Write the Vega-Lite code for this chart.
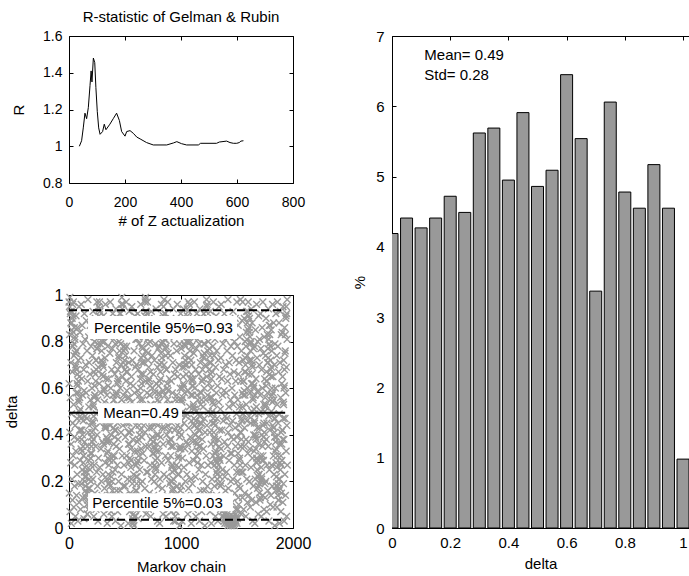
{
"$schema":"https://vega.github.io/schema/vega-lite/v6.json",
"background":"white",
"padding":{"left":4,"top":10,"right":0,"bottom":0},
"config":{
 "font":"Liberation Sans",
 "view":{"stroke":null},
 "axis":{"domainColor":"black","domainWidth":1,"tickColor":"black","tickWidth":1,"tickSize":-4,"labelColor":"black","titleColor":"black","grid":false,"titleFontWeight":"normal","labelFont":"Liberation Sans","titleFont":"Liberation Sans","labelFlush":false,"labelOverlap":false,"labelBound":false},
 "title":{"fontWeight":"normal","color":"black","font":"Liberation Sans"}
},
"datasets":{
 "rstat":[{"n":37,"R":1.0},{"n":45,"R":1.03},{"n":51,"R":1.1},{"n":57,"R":1.18},{"n":63,"R":1.15},{"n":69,"R":1.21},{"n":75,"R":1.33},{"n":79,"R":1.41},{"n":82,"R":1.35},{"n":87,"R":1.48},{"n":92,"R":1.455},{"n":96,"R":1.32},{"n":101,"R":1.19},{"n":106,"R":1.1},{"n":111,"R":1.065},{"n":120,"R":1.08},{"n":126,"R":1.12},{"n":132,"R":1.09},{"n":146,"R":1.12},{"n":158,"R":1.15},{"n":170,"R":1.18},{"n":180,"R":1.14},{"n":188,"R":1.08},{"n":200,"R":1.055},{"n":206,"R":1.08},{"n":218,"R":1.085},{"n":230,"R":1.07},{"n":242,"R":1.05},{"n":254,"R":1.04},{"n":277,"R":1.02},{"n":301,"R":1.007},{"n":349,"R":1.007},{"n":373,"R":1.018},{"n":385,"R":1.025},{"n":402,"R":1.014},{"n":420,"R":1.007},{"n":462,"R":1.007},{"n":470,"R":1.016},{"n":527,"R":1.016},{"n":537,"R":1.023},{"n":563,"R":1.028},{"n":575,"R":1.02},{"n":587,"R":1.016},{"n":599,"R":1.016},{"n":608,"R":1.02},{"n":614,"R":1.028},{"n":623,"R":1.03}],
 "chain":[
{"i":0,"d":0.97},{"i":4,"d":0.95},{"i":8,"d":0.99},{"i":12,"d":0.92},{"i":16,"d":0.88},{"i":20,"d":0.93},{"i":24,"d":0.85},{"i":28,"d":0.9},{"i":32,"d":0.96},{"i":36,"d":0.91},{"i":40,"d":0.84},{"i":44,"d":0.79},{"i":48,"d":0.86},{"i":52,"d":0.82},{"i":56,"d":0.75},{"i":60,"d":0.7},{"i":64,"d":0.76},{"i":68,"d":0.68},{"i":72,"d":0.62},{"i":76,"d":0.66},
{"i":80,"d":0.58},{"i":84,"d":0.63},{"i":88,"d":0.55},{"i":92,"d":0.5},{"i":96,"d":0.56},{"i":100,"d":0.48},{"i":104,"d":0.42},{"i":108,"d":0.47},{"i":112,"d":0.38},{"i":116,"d":0.33},{"i":120,"d":0.4},{"i":124,"d":0.35},{"i":128,"d":0.28},{"i":132,"d":0.31},{"i":136,"d":0.24},{"i":140,"d":0.2},{"i":144,"d":0.26},{"i":148,"d":0.18},{"i":152,"d":0.22},{"i":156,"d":0.15},
{"i":160,"d":0.1},{"i":164,"d":0.06},{"i":168,"d":0.12},{"i":172,"d":0.08},{"i":176,"d":0.15},{"i":180,"d":0.21},{"i":184,"d":0.17},{"i":188,"d":0.25},{"i":192,"d":0.3},{"i":196,"d":0.27},{"i":200,"d":0.35},{"i":204,"d":0.41},{"i":208,"d":0.37},{"i":212,"d":0.45},{"i":216,"d":0.52},{"i":220,"d":0.48},{"i":224,"d":0.56},{"i":228,"d":0.61},{"i":232,"d":0.57},{"i":236,"d":0.66},
{"i":240,"d":0.72},{"i":244,"d":0.68},{"i":248,"d":0.77},{"i":252,"d":0.83},{"i":256,"d":0.79},{"i":260,"d":0.88},{"i":264,"d":0.95},{"i":268,"d":0.91},{"i":272,"d":0.97},{"i":276,"d":0.93},{"i":280,"d":0.86},{"i":284,"d":0.9},{"i":288,"d":0.82},{"i":292,"d":0.76},{"i":296,"d":0.8},{"i":300,"d":0.71},{"i":304,"d":0.65},{"i":308,"d":0.69},{"i":312,"d":0.6},{"i":316,"d":0.54},
{"i":320,"d":0.49},{"i":324,"d":0.44},{"i":328,"d":0.5},{"i":332,"d":0.43},{"i":336,"d":0.37},{"i":340,"d":0.32},{"i":344,"d":0.38},{"i":348,"d":0.3},{"i":352,"d":0.23},{"i":356,"d":0.27},{"i":360,"d":0.19},{"i":364,"d":0.14},{"i":368,"d":0.18},{"i":372,"d":0.11},{"i":376,"d":0.07},{"i":380,"d":0.13},{"i":384,"d":0.2},{"i":388,"d":0.16},{"i":392,"d":0.24},{"i":396,"d":0.29},
{"i":400,"d":0.36},{"i":404,"d":0.31},{"i":408,"d":0.39},{"i":412,"d":0.46},{"i":416,"d":0.42},{"i":420,"d":0.51},{"i":424,"d":0.57},{"i":428,"d":0.53},{"i":432,"d":0.62},{"i":436,"d":0.68},{"i":440,"d":0.64},{"i":444,"d":0.73},{"i":448,"d":0.8},{"i":452,"d":0.76},{"i":456,"d":0.85},{"i":460,"d":0.92},{"i":464,"d":0.88},{"i":468,"d":0.96},{"i":472,"d":0.99},{"i":476,"d":0.94},
{"i":480,"d":0.89},{"i":484,"d":0.83},{"i":488,"d":0.87},{"i":492,"d":0.78},{"i":496,"d":0.72},{"i":500,"d":0.77},{"i":504,"d":0.7},{"i":508,"d":0.63},{"i":512,"d":0.67},{"i":516,"d":0.59},{"i":520,"d":0.52},{"i":524,"d":0.56},{"i":528,"d":0.47},{"i":532,"d":0.41},{"i":536,"d":0.45},{"i":540,"d":0.36},{"i":544,"d":0.3},{"i":548,"d":0.34},{"i":552,"d":0.26},{"i":556,"d":0.21},
{"i":560,"d":0.14},{"i":564,"d":0.09},{"i":568,"d":0.04},{"i":572,"d":0.02},{"i":576,"d":0.06},{"i":580,"d":0.01},{"i":584,"d":0.05},{"i":588,"d":0.11},{"i":592,"d":0.08},{"i":596,"d":0.16},{"i":600,"d":0.22},{"i":604,"d":0.19},{"i":608,"d":0.28},{"i":612,"d":0.33},{"i":616,"d":0.29},{"i":620,"d":0.38},{"i":624,"d":0.44},{"i":628,"d":0.4},{"i":632,"d":0.48},{"i":636,"d":0.55},
{"i":640,"d":0.6},{"i":644,"d":0.66},{"i":648,"d":0.62},{"i":652,"d":0.71},{"i":656,"d":0.77},{"i":660,"d":0.74},{"i":664,"d":0.82},{"i":668,"d":0.87},{"i":672,"d":0.84},{"i":676,"d":0.91},{"i":680,"d":0.97},{"i":684,"d":0.99},{"i":688,"d":0.93},{"i":692,"d":0.88},{"i":696,"d":0.92},{"i":700,"d":0.81},{"i":704,"d":0.75},{"i":708,"d":0.79},{"i":712,"d":0.69},{"i":716,"d":0.64},
{"i":720,"d":0.57},{"i":724,"d":0.61},{"i":728,"d":0.53},{"i":732,"d":0.47},{"i":736,"d":0.5},{"i":740,"d":0.43},{"i":744,"d":0.39},{"i":748,"d":0.45},{"i":752,"d":0.37},{"i":756,"d":0.32},{"i":760,"d":0.35},{"i":764,"d":0.27},{"i":768,"d":0.23},{"i":772,"d":0.29},{"i":776,"d":0.25},{"i":780,"d":0.33},{"i":784,"d":0.4},{"i":788,"d":0.36},{"i":792,"d":0.44},{"i":796,"d":0.51},
{"i":800,"d":0.58},{"i":804,"d":0.54},{"i":808,"d":0.63},{"i":812,"d":0.7},{"i":816,"d":0.67},{"i":820,"d":0.75},{"i":824,"d":0.71},{"i":828,"d":0.79},{"i":832,"d":0.86},{"i":836,"d":0.83},{"i":840,"d":0.9},{"i":844,"d":0.95},{"i":848,"d":0.98},{"i":852,"d":0.92},{"i":856,"d":0.85},{"i":860,"d":0.81},{"i":864,"d":0.74},{"i":868,"d":0.78},{"i":872,"d":0.68},{"i":876,"d":0.62},
{"i":880,"d":0.55},{"i":884,"d":0.59},{"i":888,"d":0.5},{"i":892,"d":0.46},{"i":896,"d":0.53},{"i":900,"d":0.42},{"i":904,"d":0.38},{"i":908,"d":0.31},{"i":912,"d":0.35},{"i":916,"d":0.26},{"i":920,"d":0.2},{"i":924,"d":0.24},{"i":928,"d":0.17},{"i":932,"d":0.21},{"i":936,"d":0.13},{"i":940,"d":0.09},{"i":944,"d":0.12},{"i":948,"d":0.05},{"i":952,"d":0.03},{"i":956,"d":0.07},
{"i":960,"d":0.12},{"i":964,"d":0.18},{"i":968,"d":0.15},{"i":972,"d":0.23},{"i":976,"d":0.3},{"i":980,"d":0.26},{"i":984,"d":0.34},{"i":988,"d":0.39},{"i":992,"d":0.35},{"i":996,"d":0.43},{"i":1000,"d":0.49},{"i":1004,"d":0.46},{"i":1008,"d":0.54},{"i":1012,"d":0.6},{"i":1016,"d":0.56},{"i":1020,"d":0.65},{"i":1024,"d":0.61},{"i":1028,"d":0.69},{"i":1032,"d":0.74},{"i":1036,"d":0.7},
{"i":1040,"d":0.78},{"i":1044,"d":0.84},{"i":1048,"d":0.8},{"i":1052,"d":0.89},{"i":1056,"d":0.94},{"i":1060,"d":0.9},{"i":1064,"d":0.97},{"i":1068,"d":0.93},{"i":1072,"d":0.87},{"i":1076,"d":0.83},{"i":1080,"d":0.76},{"i":1084,"d":0.8},{"i":1088,"d":0.72},{"i":1092,"d":0.66},{"i":1096,"d":0.7},{"i":1100,"d":0.63},{"i":1104,"d":0.57},{"i":1108,"d":0.61},{"i":1112,"d":0.52},{"i":1116,"d":0.47},
{"i":1120,"d":0.51},{"i":1124,"d":0.44},{"i":1128,"d":0.4},{"i":1132,"d":0.46},{"i":1136,"d":0.37},{"i":1140,"d":0.31},{"i":1144,"d":0.36},{"i":1148,"d":0.28},{"i":1152,"d":0.33},{"i":1156,"d":0.39},{"i":1160,"d":0.35},{"i":1164,"d":0.42},{"i":1168,"d":0.48},{"i":1172,"d":0.45},{"i":1176,"d":0.53},{"i":1180,"d":0.58},{"i":1184,"d":0.55},{"i":1188,"d":0.63},{"i":1192,"d":0.68},{"i":1196,"d":0.64},
{"i":1200,"d":0.73},{"i":1204,"d":0.79},{"i":1208,"d":0.75},{"i":1212,"d":0.83},{"i":1216,"d":0.88},{"i":1220,"d":0.85},{"i":1224,"d":0.93},{"i":1228,"d":0.98},{"i":1232,"d":0.95},{"i":1236,"d":0.9},{"i":1240,"d":0.86},{"i":1244,"d":0.8},{"i":1248,"d":0.84},{"i":1252,"d":0.77},{"i":1256,"d":0.71},{"i":1260,"d":0.74},{"i":1264,"d":0.66},{"i":1268,"d":0.6},{"i":1272,"d":0.64},{"i":1276,"d":0.56},
{"i":1280,"d":0.5},{"i":1284,"d":0.54},{"i":1288,"d":0.47},{"i":1292,"d":0.41},{"i":1296,"d":0.45},{"i":1300,"d":0.38},{"i":1304,"d":0.32},{"i":1308,"d":0.36},{"i":1312,"d":0.29},{"i":1316,"d":0.24},{"i":1320,"d":0.28},{"i":1324,"d":0.21},{"i":1328,"d":0.25},{"i":1332,"d":0.31},{"i":1336,"d":0.27},{"i":1340,"d":0.35},{"i":1344,"d":0.3},{"i":1348,"d":0.22},{"i":1352,"d":0.18},{"i":1356,"d":0.13},
{"i":1360,"d":0.09},{"i":1364,"d":0.12},{"i":1368,"d":0.07},{"i":1372,"d":0.1},{"i":1376,"d":0.05},{"i":1380,"d":0.08},{"i":1384,"d":0.03},{"i":1388,"d":0.06},{"i":1392,"d":0.02},{"i":1396,"d":0.04},{"i":1400,"d":0.07},{"i":1404,"d":0.03},{"i":1408,"d":0.05},{"i":1412,"d":0.02},{"i":1416,"d":0.04},{"i":1420,"d":0.01},{"i":1424,"d":0.03},{"i":1428,"d":0.02},{"i":1432,"d":0.05},{"i":1436,"d":0.03},
{"i":1440,"d":0.01},{"i":1444,"d":0.04},{"i":1448,"d":0.02},{"i":1452,"d":0.03},{"i":1456,"d":0.01},{"i":1460,"d":0.05},{"i":1464,"d":0.02},{"i":1468,"d":0.04},{"i":1472,"d":0.03},{"i":1476,"d":0.01},{"i":1480,"d":0.02},{"i":1484,"d":0.04},{"i":1488,"d":0.06},{"i":1492,"d":0.03},{"i":1496,"d":0.05},{"i":1500,"d":0.02},{"i":1504,"d":0.04},{"i":1508,"d":0.08},{"i":1512,"d":0.13},{"i":1516,"d":0.18},
{"i":1520,"d":0.24},{"i":1524,"d":0.3},{"i":1528,"d":0.27},{"i":1532,"d":0.35},{"i":1536,"d":0.41},{"i":1540,"d":0.38},{"i":1544,"d":0.46},{"i":1548,"d":0.52},{"i":1552,"d":0.49},{"i":1556,"d":0.57},{"i":1560,"d":0.63},{"i":1564,"d":0.59},{"i":1568,"d":0.67},{"i":1572,"d":0.73},{"i":1576,"d":0.7},{"i":1580,"d":0.78},{"i":1584,"d":0.84},{"i":1588,"d":0.81},{"i":1592,"d":0.88},{"i":1596,"d":0.93},
{"i":1600,"d":0.97},{"i":1604,"d":0.91},{"i":1608,"d":0.86},{"i":1612,"d":0.9},{"i":1616,"d":0.82},{"i":1620,"d":0.76},{"i":1624,"d":0.8},{"i":1628,"d":0.72},{"i":1632,"d":0.66},{"i":1636,"d":0.7},{"i":1640,"d":0.62},{"i":1644,"d":0.56},{"i":1648,"d":0.6},{"i":1652,"d":0.51},{"i":1656,"d":0.45},{"i":1660,"d":0.49},{"i":1664,"d":0.4},{"i":1668,"d":0.34},{"i":1672,"d":0.38},{"i":1676,"d":0.3},
{"i":1680,"d":0.25},{"i":1684,"d":0.29},{"i":1688,"d":0.22},{"i":1692,"d":0.18},{"i":1696,"d":0.23},{"i":1700,"d":0.15},{"i":1704,"d":0.19},{"i":1708,"d":0.13},{"i":1712,"d":0.2},{"i":1716,"d":0.26},{"i":1720,"d":0.21},{"i":1724,"d":0.29},{"i":1728,"d":0.35},{"i":1732,"d":0.31},{"i":1736,"d":0.39},{"i":1740,"d":0.45},{"i":1744,"d":0.41},{"i":1748,"d":0.5},{"i":1752,"d":0.56},{"i":1756,"d":0.53},
{"i":1760,"d":0.61},{"i":1764,"d":0.67},{"i":1768,"d":0.63},{"i":1772,"d":0.71},{"i":1776,"d":0.77},{"i":1780,"d":0.73},{"i":1784,"d":0.81},{"i":1788,"d":0.87},{"i":1792,"d":0.83},{"i":1796,"d":0.78},{"i":1800,"d":0.72},{"i":1804,"d":0.65},{"i":1808,"d":0.69},{"i":1812,"d":0.6},{"i":1816,"d":0.54},{"i":1820,"d":0.58},{"i":1824,"d":0.49},{"i":1828,"d":0.43},{"i":1832,"d":0.47},{"i":1836,"d":0.39},
{"i":1840,"d":0.33},{"i":1844,"d":0.37},{"i":1848,"d":0.28},{"i":1852,"d":0.22},{"i":1856,"d":0.26},{"i":1860,"d":0.18},{"i":1864,"d":0.14},{"i":1868,"d":0.19},{"i":1872,"d":0.12},{"i":1876,"d":0.16},{"i":1880,"d":0.21},{"i":1884,"d":0.17},{"i":1888,"d":0.25},{"i":1892,"d":0.31},{"i":1896,"d":0.27},{"i":1900,"d":0.36},{"i":1904,"d":0.42},{"i":1908,"d":0.38},{"i":1912,"d":0.47},{"i":1916,"d":0.53},
{"i":1920,"d":0.6},{"i":1924,"d":0.68},{"i":1928,"d":0.75},{"i":1932,"d":0.83},{"i":1936,"d":0.9},{"i":1940,"d":0.95},{"i":1944,"d":0.92},{"i":1948,"d":0.98},
{"i":1,"d":0.62},{"i":3,"d":0.15},{"i":5,"d":0.83},{"i":7,"d":0.41},{"i":9,"d":0.07},{"i":11,"d":0.56},{"i":13,"d":0.93},{"i":15,"d":0.28},{"i":17,"d":0.71},{"i":19,"d":0.36},{"i":21,"d":0.02},{"i":23,"d":0.49},{"i":25,"d":0.88},{"i":27,"d":0.21},{"i":29,"d":0.67},{"i":31,"d":0.12},{"i":33,"d":0.45},{"i":35,"d":0.78},{"i":37,"d":0.31},{"i":39,"d":0.97},{"i":41,"d":0.53},{"i":43,"d":0.09},{"i":45,"d":0.74},{"i":47,"d":0.39},{"i":49,"d":0.18},
{"i":51,"d":0.27},{"i":53,"d":0.81},{"i":55,"d":0.44},{"i":57,"d":0.05},{"i":59,"d":0.69},{"i":61,"d":0.33},{"i":63,"d":0.91},{"i":65,"d":0.58},{"i":67,"d":0.14},{"i":69,"d":0.76},{"i":71,"d":0.47},{"i":73,"d":0.23},{"i":75,"d":0.86},{"i":77,"d":0.61},{"i":79,"d":0.03},{"i":81,"d":0.38},{"i":83,"d":0.72},{"i":85,"d":0.19},{"i":87,"d":0.54},{"i":89,"d":0.95},{"i":91,"d":0.11},{"i":93,"d":0.65},{"i":95,"d":0.42},{"i":97,"d":0.84},{"i":99,"d":0.29},
{"i":101,"d":0.51},{"i":103,"d":0.08},{"i":105,"d":0.73},{"i":107,"d":0.34},{"i":109,"d":0.96},{"i":111,"d":0.19},{"i":113,"d":0.64},{"i":115,"d":0.42},{"i":117,"d":0.87},{"i":119,"d":0.25},{"i":121,"d":0.57},{"i":123,"d":0.13},{"i":125,"d":0.79},{"i":127,"d":0.46},{"i":129,"d":0.31},{"i":131,"d":0.68},{"i":133,"d":0.04},{"i":135,"d":0.59},{"i":137,"d":0.92},{"i":139,"d":0.37},{"i":141,"d":0.22},{"i":143,"d":0.81},{"i":145,"d":0.48},{"i":147,"d":0.16},{"i":149,"d":0.7},
{"i":151,"d":0.13},{"i":153,"d":0.58},{"i":155,"d":0.89},{"i":157,"d":0.24},{"i":159,"d":0.47},{"i":161,"d":0.76},{"i":163,"d":0.06},{"i":165,"d":0.35},{"i":167,"d":0.63},{"i":169,"d":0.98},{"i":171,"d":0.41},{"i":173,"d":0.17},{"i":175,"d":0.82},{"i":177,"d":0.52},{"i":179,"d":0.29},{"i":181,"d":0.71},{"i":183,"d":0.44},{"i":185,"d":0.1},{"i":187,"d":0.66},{"i":189,"d":0.87},{"i":191,"d":0.32},{"i":193,"d":0.55},{"i":195,"d":0.2},{"i":197,"d":0.78},{"i":199,"d":0.39},
{"i":201,"d":0.85},{"i":203,"d":0.32},{"i":205,"d":0.6},{"i":207,"d":0.11},{"i":209,"d":0.74},{"i":211,"d":0.46},{"i":213,"d":0.21},{"i":215,"d":0.93},{"i":217,"d":0.53},{"i":219,"d":0.38},{"i":221,"d":0.05},{"i":223,"d":0.67},{"i":225,"d":0.27},{"i":227,"d":0.8},{"i":229,"d":0.57},{"i":231,"d":0.15},{"i":233,"d":0.43},{"i":235,"d":0.9},{"i":237,"d":0.35},{"i":239,"d":0.63},{"i":241,"d":0.08},{"i":243,"d":0.72},{"i":245,"d":0.49},{"i":247,"d":0.24},{"i":249,"d":0.97},
{"i":251,"d":0.4},{"i":253,"d":0.77},{"i":255,"d":0.18},{"i":257,"d":0.55},{"i":259,"d":0.03},{"i":261,"d":0.69},{"i":263,"d":0.3},{"i":265,"d":0.88},{"i":267,"d":0.5},{"i":269,"d":0.12},{"i":271,"d":0.62},{"i":273,"d":0.94},{"i":275,"d":0.26},{"i":277,"d":0.45},{"i":279,"d":0.79},{"i":281,"d":0.09},{"i":283,"d":0.58},{"i":285,"d":0.34},{"i":287,"d":0.72},{"i":289,"d":0.2},{"i":291,"d":0.84},{"i":293,"d":0.48},{"i":295,"d":0.14},{"i":297,"d":0.66},{"i":299,"d":0.37},
{"i":301,"d":0.7},{"i":303,"d":0.23},{"i":305,"d":0.49},{"i":307,"d":0.91},{"i":309,"d":0.36},{"i":311,"d":0.06},{"i":313,"d":0.59},{"i":315,"d":0.8},{"i":317,"d":0.17},{"i":319,"d":0.43},{"i":321,"d":0.73},{"i":323,"d":0.28},{"i":325,"d":0.96},{"i":327,"d":0.52},{"i":329,"d":0.11},{"i":331,"d":0.64},{"i":333,"d":0.39},{"i":335,"d":0.85},{"i":337,"d":0.21},{"i":339,"d":0.57},{"i":341,"d":0.02},{"i":343,"d":0.46},{"i":345,"d":0.78},{"i":347,"d":0.33},{"i":349,"d":0.61},
{"i":351,"d":0.19},{"i":353,"d":0.64},{"i":355,"d":0.37},{"i":357,"d":0.82},{"i":359,"d":0.08},{"i":361,"d":0.53},{"i":363,"d":0.29},{"i":365,"d":0.75},{"i":367,"d":0.44},{"i":369,"d":0.97},{"i":371,"d":0.14},{"i":373,"d":0.6},{"i":375,"d":0.86},{"i":377,"d":0.4},{"i":379,"d":0.22},{"i":381,"d":0.68},{"i":383,"d":0.05},{"i":385,"d":0.5},{"i":387,"d":0.77},{"i":389,"d":0.31},{"i":391,"d":0.92},{"i":393,"d":0.57},{"i":395,"d":0.12},{"i":397,"d":0.43},{"i":399,"d":0.81},
{"i":401,"d":0.55},{"i":403,"d":0.1},{"i":405,"d":0.87},{"i":407,"d":0.42},{"i":409,"d":0.66},{"i":411,"d":0.25},{"i":413,"d":0.79},{"i":415,"d":0.03},{"i":417,"d":0.48},{"i":419,"d":0.94},{"i":421,"d":0.35},{"i":423,"d":0.71},{"i":425,"d":0.16},{"i":427,"d":0.58},{"i":429,"d":0.83},{"i":431,"d":0.27},{"i":433,"d":0.45},{"i":435,"d":0.07},{"i":437,"d":0.63},{"i":439,"d":0.38},{"i":441,"d":0.9},{"i":443,"d":0.2},{"i":445,"d":0.74},{"i":447,"d":0.52},{"i":449,"d":0.13},
{"i":451,"d":0.34},{"i":453,"d":0.92},{"i":455,"d":0.16},{"i":457,"d":0.6},{"i":459,"d":0.47},{"i":461,"d":0.79},{"i":463,"d":0.01},{"i":465,"d":0.41},{"i":467,"d":0.7},{"i":469,"d":0.23},{"i":471,"d":0.55},{"i":473,"d":0.88},{"i":475,"d":0.31},{"i":477,"d":0.09},{"i":479,"d":0.65},{"i":481,"d":0.44},{"i":483,"d":0.96},{"i":485,"d":0.18},{"i":487,"d":0.57},{"i":489,"d":0.76},{"i":491,"d":0.27},{"i":493,"d":0.5},{"i":495,"d":0.85},{"i":497,"d":0.14},{"i":499,"d":0.68},
{"i":501,"d":0.18},{"i":503,"d":0.39},{"i":505,"d":0.74},{"i":507,"d":0.09},{"i":509,"d":0.53},{"i":511,"d":0.97},{"i":513,"d":0.31},{"i":515,"d":0.78},{"i":517,"d":0.45},{"i":519,"d":0.12},{"i":521,"d":0.67},{"i":523,"d":0.21},{"i":525,"d":0.88},{"i":527,"d":0.49},{"i":529,"d":0.02},{"i":531,"d":0.36},{"i":533,"d":0.71},{"i":535,"d":0.28},{"i":537,"d":0.93},{"i":539,"d":0.56},{"i":541,"d":0.07},{"i":543,"d":0.41},{"i":545,"d":0.83},{"i":547,"d":0.15},{"i":549,"d":0.62},
{"i":551,"d":0.29},{"i":553,"d":0.84},{"i":555,"d":0.42},{"i":557,"d":0.65},{"i":559,"d":0.11},{"i":561,"d":0.95},{"i":563,"d":0.54},{"i":565,"d":0.19},{"i":567,"d":0.72},{"i":569,"d":0.38},{"i":571,"d":0.03},{"i":573,"d":0.61},{"i":575,"d":0.86},{"i":577,"d":0.23},{"i":579,"d":0.47},{"i":581,"d":0.76},{"i":583,"d":0.14},{"i":585,"d":0.58},{"i":587,"d":0.91},{"i":589,"d":0.33},{"i":591,"d":0.69},{"i":593,"d":0.05},{"i":595,"d":0.44},{"i":597,"d":0.81},{"i":599,"d":0.27},
{"i":601,"d":0.7},{"i":603,"d":0.16},{"i":605,"d":0.48},{"i":607,"d":0.81},{"i":609,"d":0.22},{"i":611,"d":0.37},{"i":613,"d":0.92},{"i":615,"d":0.59},{"i":617,"d":0.04},{"i":619,"d":0.68},{"i":621,"d":0.31},{"i":623,"d":0.46},{"i":625,"d":0.79},{"i":627,"d":0.13},{"i":629,"d":0.57},{"i":631,"d":0.25},{"i":633,"d":0.87},{"i":635,"d":0.42},{"i":637,"d":0.64},{"i":639,"d":0.19},{"i":641,"d":0.96},{"i":643,"d":0.34},{"i":645,"d":0.73},{"i":647,"d":0.08},{"i":649,"d":0.51},
{"i":651,"d":0.39},{"i":653,"d":0.78},{"i":655,"d":0.2},{"i":657,"d":0.55},{"i":659,"d":0.32},{"i":661,"d":0.87},{"i":663,"d":0.66},{"i":665,"d":0.1},{"i":667,"d":0.44},{"i":669,"d":0.71},{"i":671,"d":0.29},{"i":673,"d":0.52},{"i":675,"d":0.82},{"i":677,"d":0.17},{"i":679,"d":0.41},{"i":681,"d":0.98},{"i":683,"d":0.63},{"i":685,"d":0.35},{"i":687,"d":0.06},{"i":689,"d":0.76},{"i":691,"d":0.47},{"i":693,"d":0.24},{"i":695,"d":0.89},{"i":697,"d":0.58},{"i":699,"d":0.13},
{"i":701,"d":0.97},{"i":703,"d":0.24},{"i":705,"d":0.49},{"i":707,"d":0.72},{"i":709,"d":0.08},{"i":711,"d":0.63},{"i":713,"d":0.35},{"i":715,"d":0.9},{"i":717,"d":0.43},{"i":719,"d":0.15},{"i":721,"d":0.57},{"i":723,"d":0.8},{"i":725,"d":0.27},{"i":727,"d":0.67},{"i":729,"d":0.05},{"i":731,"d":0.38},{"i":733,"d":0.53},{"i":735,"d":0.93},{"i":737,"d":0.21},{"i":739,"d":0.46},{"i":741,"d":0.74},{"i":743,"d":0.11},{"i":745,"d":0.6},{"i":747,"d":0.32},{"i":749,"d":0.85},
{"i":751,"d":0.37},{"i":753,"d":0.66},{"i":755,"d":0.14},{"i":757,"d":0.48},{"i":759,"d":0.84},{"i":761,"d":0.2},{"i":763,"d":0.72},{"i":765,"d":0.34},{"i":767,"d":0.58},{"i":769,"d":0.09},{"i":771,"d":0.79},{"i":773,"d":0.45},{"i":775,"d":0.26},{"i":777,"d":0.94},{"i":779,"d":0.62},{"i":781,"d":0.12},{"i":783,"d":0.5},{"i":785,"d":0.88},{"i":787,"d":0.3},{"i":789,"d":0.69},{"i":791,"d":0.03},{"i":793,"d":0.55},{"i":795,"d":0.18},{"i":797,"d":0.77},{"i":799,"d":0.4},
{"i":801,"d":0.61},{"i":803,"d":0.33},{"i":805,"d":0.78},{"i":807,"d":0.46},{"i":809,"d":0.02},{"i":811,"d":0.57},{"i":813,"d":0.21},{"i":815,"d":0.85},{"i":817,"d":0.39},{"i":819,"d":0.64},{"i":821,"d":0.11},{"i":823,"d":0.52},{"i":825,"d":0.96},{"i":827,"d":0.28},{"i":829,"d":0.73},{"i":831,"d":0.43},{"i":833,"d":0.17},{"i":835,"d":0.8},{"i":837,"d":0.59},{"i":839,"d":0.06},{"i":841,"d":0.36},{"i":843,"d":0.91},{"i":845,"d":0.49},{"i":847,"d":0.23},{"i":849,"d":0.7},
{"i":851,"d":0.81},{"i":853,"d":0.43},{"i":855,"d":0.12},{"i":857,"d":0.57},{"i":859,"d":0.92},{"i":861,"d":0.31},{"i":863,"d":0.77},{"i":865,"d":0.5},{"i":867,"d":0.05},{"i":869,"d":0.68},{"i":871,"d":0.22},{"i":873,"d":0.4},{"i":875,"d":0.86},{"i":877,"d":0.6},{"i":879,"d":0.14},{"i":881,"d":0.97},{"i":883,"d":0.44},{"i":885,"d":0.75},{"i":887,"d":0.29},{"i":889,"d":0.53},{"i":891,"d":0.08},{"i":893,"d":0.82},{"i":895,"d":0.37},{"i":897,"d":0.64},{"i":899,"d":0.19},
{"i":901,"d":0.13},{"i":903,"d":0.52},{"i":905,"d":0.74},{"i":907,"d":0.2},{"i":909,"d":0.9},{"i":911,"d":0.38},{"i":913,"d":0.63},{"i":915,"d":0.07},{"i":917,"d":0.45},{"i":919,"d":0.27},{"i":921,"d":0.83},{"i":923,"d":0.58},{"i":925,"d":0.16},{"i":927,"d":0.71},{"i":929,"d":0.35},{"i":931,"d":0.94},{"i":933,"d":0.48},{"i":935,"d":0.03},{"i":937,"d":0.79},{"i":939,"d":0.25},{"i":941,"d":0.66},{"i":943,"d":0.42},{"i":945,"d":0.87},{"i":947,"d":0.1},{"i":949,"d":0.55},
{"i":951,"d":0.68},{"i":953,"d":0.14},{"i":955,"d":0.85},{"i":957,"d":0.5},{"i":959,"d":0.27},{"i":961,"d":0.76},{"i":963,"d":0.57},{"i":965,"d":0.18},{"i":967,"d":0.96},{"i":969,"d":0.44},{"i":971,"d":0.65},{"i":973,"d":0.09},{"i":975,"d":0.31},{"i":977,"d":0.88},{"i":979,"d":0.55},{"i":981,"d":0.23},{"i":983,"d":0.7},{"i":985,"d":0.41},{"i":987,"d":0.01},{"i":989,"d":0.79},{"i":991,"d":0.47},{"i":993,"d":0.6},{"i":995,"d":0.16},{"i":997,"d":0.92},{"i":999,"d":0.34},
{"i":1001,"d":0.4},{"i":1003,"d":0.77},{"i":1005,"d":0.18},{"i":1007,"d":0.55},{"i":1009,"d":0.03},{"i":1011,"d":0.69},{"i":1013,"d":0.3},{"i":1015,"d":0.88},{"i":1017,"d":0.5},{"i":1019,"d":0.12},{"i":1021,"d":0.62},{"i":1023,"d":0.94},{"i":1025,"d":0.26},{"i":1027,"d":0.45},{"i":1029,"d":0.79},{"i":1031,"d":0.09},{"i":1033,"d":0.58},{"i":1035,"d":0.34},{"i":1037,"d":0.72},{"i":1039,"d":0.2},{"i":1041,"d":0.84},{"i":1043,"d":0.48},{"i":1045,"d":0.14},{"i":1047,"d":0.66},{"i":1049,"d":0.37},
{"i":1051,"d":0.7},{"i":1053,"d":0.23},{"i":1055,"d":0.49},{"i":1057,"d":0.91},{"i":1059,"d":0.36},{"i":1061,"d":0.06},{"i":1063,"d":0.59},{"i":1065,"d":0.8},{"i":1067,"d":0.17},{"i":1069,"d":0.43},{"i":1071,"d":0.73},{"i":1073,"d":0.28},{"i":1075,"d":0.96},{"i":1077,"d":0.52},{"i":1079,"d":0.11},{"i":1081,"d":0.64},{"i":1083,"d":0.39},{"i":1085,"d":0.85},{"i":1087,"d":0.21},{"i":1089,"d":0.57},{"i":1091,"d":0.02},{"i":1093,"d":0.46},{"i":1095,"d":0.78},{"i":1097,"d":0.33},{"i":1099,"d":0.61},
{"i":1101,"d":0.19},{"i":1103,"d":0.64},{"i":1105,"d":0.37},{"i":1107,"d":0.82},{"i":1109,"d":0.08},{"i":1111,"d":0.53},{"i":1113,"d":0.29},{"i":1115,"d":0.75},{"i":1117,"d":0.44},{"i":1119,"d":0.97},{"i":1121,"d":0.14},{"i":1123,"d":0.6},{"i":1125,"d":0.86},{"i":1127,"d":0.4},{"i":1129,"d":0.22},{"i":1131,"d":0.68},{"i":1133,"d":0.05},{"i":1135,"d":0.5},{"i":1137,"d":0.77},{"i":1139,"d":0.31},{"i":1141,"d":0.92},{"i":1143,"d":0.57},{"i":1145,"d":0.12},{"i":1147,"d":0.43},{"i":1149,"d":0.81},
{"i":1151,"d":0.55},{"i":1153,"d":0.1},{"i":1155,"d":0.87},{"i":1157,"d":0.42},{"i":1159,"d":0.66},{"i":1161,"d":0.25},{"i":1163,"d":0.79},{"i":1165,"d":0.03},{"i":1167,"d":0.48},{"i":1169,"d":0.94},{"i":1171,"d":0.35},{"i":1173,"d":0.71},{"i":1175,"d":0.16},{"i":1177,"d":0.58},{"i":1179,"d":0.83},{"i":1181,"d":0.27},{"i":1183,"d":0.45},{"i":1185,"d":0.07},{"i":1187,"d":0.63},{"i":1189,"d":0.38},{"i":1191,"d":0.9},{"i":1193,"d":0.2},{"i":1195,"d":0.74},{"i":1197,"d":0.52},{"i":1199,"d":0.13},
{"i":1201,"d":0.34},{"i":1203,"d":0.92},{"i":1205,"d":0.16},{"i":1207,"d":0.6},{"i":1209,"d":0.47},{"i":1211,"d":0.79},{"i":1213,"d":0.01},{"i":1215,"d":0.41},{"i":1217,"d":0.7},{"i":1219,"d":0.23},{"i":1221,"d":0.55},{"i":1223,"d":0.88},{"i":1225,"d":0.31},{"i":1227,"d":0.09},{"i":1229,"d":0.65},{"i":1231,"d":0.44},{"i":1233,"d":0.96},{"i":1235,"d":0.18},{"i":1237,"d":0.57},{"i":1239,"d":0.76},{"i":1241,"d":0.27},{"i":1243,"d":0.5},{"i":1245,"d":0.85},{"i":1247,"d":0.14},{"i":1249,"d":0.68},
{"i":1251,"d":0.62},{"i":1253,"d":0.15},{"i":1255,"d":0.83},{"i":1257,"d":0.41},{"i":1259,"d":0.07},{"i":1261,"d":0.56},{"i":1263,"d":0.93},{"i":1265,"d":0.28},{"i":1267,"d":0.71},{"i":1269,"d":0.36},{"i":1271,"d":0.02},{"i":1273,"d":0.49},{"i":1275,"d":0.88},{"i":1277,"d":0.21},{"i":1279,"d":0.67},{"i":1281,"d":0.12},{"i":1283,"d":0.45},{"i":1285,"d":0.78},{"i":1287,"d":0.31},{"i":1289,"d":0.97},{"i":1291,"d":0.53},{"i":1293,"d":0.09},{"i":1295,"d":0.74},{"i":1297,"d":0.39},{"i":1299,"d":0.18},
{"i":1301,"d":0.27},{"i":1303,"d":0.81},{"i":1305,"d":0.44},{"i":1307,"d":0.05},{"i":1309,"d":0.69},{"i":1311,"d":0.33},{"i":1313,"d":0.91},{"i":1315,"d":0.58},{"i":1317,"d":0.14},{"i":1319,"d":0.76},{"i":1321,"d":0.47},{"i":1323,"d":0.23},{"i":1325,"d":0.86},{"i":1327,"d":0.61},{"i":1329,"d":0.03},{"i":1331,"d":0.38},{"i":1333,"d":0.72},{"i":1335,"d":0.19},{"i":1337,"d":0.54},{"i":1339,"d":0.95},{"i":1341,"d":0.11},{"i":1343,"d":0.65},{"i":1345,"d":0.42},{"i":1347,"d":0.84},{"i":1349,"d":0.29},
{"i":1351,"d":0.51},{"i":1353,"d":0.08},{"i":1355,"d":0.73},{"i":1357,"d":0.34},{"i":1359,"d":0.96},{"i":1361,"d":0.19},{"i":1363,"d":0.64},{"i":1365,"d":0.42},{"i":1367,"d":0.87},{"i":1369,"d":0.25},{"i":1371,"d":0.57},{"i":1373,"d":0.13},{"i":1375,"d":0.79},{"i":1377,"d":0.46},{"i":1379,"d":0.31},{"i":1381,"d":0.68},{"i":1383,"d":0.04},{"i":1385,"d":0.59},{"i":1387,"d":0.92},{"i":1389,"d":0.37},{"i":1391,"d":0.22},{"i":1393,"d":0.81},{"i":1395,"d":0.48},{"i":1397,"d":0.16},{"i":1399,"d":0.7},
{"i":1401,"d":0.13},{"i":1403,"d":0.58},{"i":1405,"d":0.89},{"i":1407,"d":0.24},{"i":1409,"d":0.47},{"i":1411,"d":0.76},{"i":1413,"d":0.06},{"i":1415,"d":0.35},{"i":1417,"d":0.63},{"i":1419,"d":0.98},{"i":1421,"d":0.41},{"i":1423,"d":0.17},{"i":1425,"d":0.82},{"i":1427,"d":0.52},{"i":1429,"d":0.29},{"i":1431,"d":0.71},{"i":1433,"d":0.44},{"i":1435,"d":0.1},{"i":1437,"d":0.66},{"i":1439,"d":0.87},{"i":1441,"d":0.32},{"i":1443,"d":0.55},{"i":1445,"d":0.2},{"i":1447,"d":0.78},{"i":1449,"d":0.39},
{"i":1451,"d":0.85},{"i":1453,"d":0.32},{"i":1455,"d":0.6},{"i":1457,"d":0.11},{"i":1459,"d":0.74},{"i":1461,"d":0.46},{"i":1463,"d":0.21},{"i":1465,"d":0.93},{"i":1467,"d":0.53},{"i":1469,"d":0.38},{"i":1471,"d":0.05},{"i":1473,"d":0.67},{"i":1475,"d":0.27},{"i":1477,"d":0.8},{"i":1479,"d":0.57},{"i":1481,"d":0.15},{"i":1483,"d":0.43},{"i":1485,"d":0.9},{"i":1487,"d":0.35},{"i":1489,"d":0.63},{"i":1491,"d":0.08},{"i":1493,"d":0.72},{"i":1495,"d":0.49},{"i":1497,"d":0.24},{"i":1499,"d":0.97},
{"i":1501,"d":0.39},{"i":1503,"d":0.78},{"i":1505,"d":0.2},{"i":1507,"d":0.55},{"i":1509,"d":0.32},{"i":1511,"d":0.87},{"i":1513,"d":0.66},{"i":1515,"d":0.1},{"i":1517,"d":0.44},{"i":1519,"d":0.71},{"i":1521,"d":0.29},{"i":1523,"d":0.52},{"i":1525,"d":0.82},{"i":1527,"d":0.17},{"i":1529,"d":0.41},{"i":1531,"d":0.98},{"i":1533,"d":0.63},{"i":1535,"d":0.35},{"i":1537,"d":0.06},{"i":1539,"d":0.76},{"i":1541,"d":0.47},{"i":1543,"d":0.24},{"i":1545,"d":0.89},{"i":1547,"d":0.58},{"i":1549,"d":0.13},
{"i":1551,"d":0.97},{"i":1553,"d":0.24},{"i":1555,"d":0.49},{"i":1557,"d":0.72},{"i":1559,"d":0.08},{"i":1561,"d":0.63},{"i":1563,"d":0.35},{"i":1565,"d":0.9},{"i":1567,"d":0.43},{"i":1569,"d":0.15},{"i":1571,"d":0.57},{"i":1573,"d":0.8},{"i":1575,"d":0.27},{"i":1577,"d":0.67},{"i":1579,"d":0.05},{"i":1581,"d":0.38},{"i":1583,"d":0.53},{"i":1585,"d":0.93},{"i":1587,"d":0.21},{"i":1589,"d":0.46},{"i":1591,"d":0.74},{"i":1593,"d":0.11},{"i":1595,"d":0.6},{"i":1597,"d":0.32},{"i":1599,"d":0.85},
{"i":1601,"d":0.37},{"i":1603,"d":0.66},{"i":1605,"d":0.14},{"i":1607,"d":0.48},{"i":1609,"d":0.84},{"i":1611,"d":0.2},{"i":1613,"d":0.72},{"i":1615,"d":0.34},{"i":1617,"d":0.58},{"i":1619,"d":0.09},{"i":1621,"d":0.79},{"i":1623,"d":0.45},{"i":1625,"d":0.26},{"i":1627,"d":0.94},{"i":1629,"d":0.62},{"i":1631,"d":0.12},{"i":1633,"d":0.5},{"i":1635,"d":0.88},{"i":1637,"d":0.3},{"i":1639,"d":0.69},{"i":1641,"d":0.03},{"i":1643,"d":0.55},{"i":1645,"d":0.18},{"i":1647,"d":0.77},{"i":1649,"d":0.4},
{"i":1651,"d":0.61},{"i":1653,"d":0.33},{"i":1655,"d":0.78},{"i":1657,"d":0.46},{"i":1659,"d":0.02},{"i":1661,"d":0.57},{"i":1663,"d":0.21},{"i":1665,"d":0.85},{"i":1667,"d":0.39},{"i":1669,"d":0.64},{"i":1671,"d":0.11},{"i":1673,"d":0.52},{"i":1675,"d":0.96},{"i":1677,"d":0.28},{"i":1679,"d":0.73},{"i":1681,"d":0.43},{"i":1683,"d":0.17},{"i":1685,"d":0.8},{"i":1687,"d":0.59},{"i":1689,"d":0.06},{"i":1691,"d":0.36},{"i":1693,"d":0.91},{"i":1695,"d":0.49},{"i":1697,"d":0.23},{"i":1699,"d":0.7},
{"i":1701,"d":0.81},{"i":1703,"d":0.43},{"i":1705,"d":0.12},{"i":1707,"d":0.57},{"i":1709,"d":0.92},{"i":1711,"d":0.31},{"i":1713,"d":0.77},{"i":1715,"d":0.5},{"i":1717,"d":0.05},{"i":1719,"d":0.68},{"i":1721,"d":0.22},{"i":1723,"d":0.4},{"i":1725,"d":0.86},{"i":1727,"d":0.6},{"i":1729,"d":0.14},{"i":1731,"d":0.97},{"i":1733,"d":0.44},{"i":1735,"d":0.75},{"i":1737,"d":0.29},{"i":1739,"d":0.53},{"i":1741,"d":0.08},{"i":1743,"d":0.82},{"i":1745,"d":0.37},{"i":1747,"d":0.64},{"i":1749,"d":0.19},
{"i":1751,"d":0.13},{"i":1753,"d":0.52},{"i":1755,"d":0.74},{"i":1757,"d":0.2},{"i":1759,"d":0.9},{"i":1761,"d":0.38},{"i":1763,"d":0.63},{"i":1765,"d":0.07},{"i":1767,"d":0.45},{"i":1769,"d":0.27},{"i":1771,"d":0.83},{"i":1773,"d":0.58},{"i":1775,"d":0.16},{"i":1777,"d":0.71},{"i":1779,"d":0.35},{"i":1781,"d":0.94},{"i":1783,"d":0.48},{"i":1785,"d":0.03},{"i":1787,"d":0.79},{"i":1789,"d":0.25},{"i":1791,"d":0.66},{"i":1793,"d":0.42},{"i":1795,"d":0.87},{"i":1797,"d":0.1},{"i":1799,"d":0.55},
{"i":1801,"d":0.68},{"i":1803,"d":0.14},{"i":1805,"d":0.85},{"i":1807,"d":0.5},{"i":1809,"d":0.27},{"i":1811,"d":0.76},{"i":1813,"d":0.57},{"i":1815,"d":0.18},{"i":1817,"d":0.96},{"i":1819,"d":0.44},{"i":1821,"d":0.65},{"i":1823,"d":0.09},{"i":1825,"d":0.31},{"i":1827,"d":0.88},{"i":1829,"d":0.55},{"i":1831,"d":0.23},{"i":1833,"d":0.7},{"i":1835,"d":0.41},{"i":1837,"d":0.01},{"i":1839,"d":0.79},{"i":1841,"d":0.47},{"i":1843,"d":0.6},{"i":1845,"d":0.16},{"i":1847,"d":0.92},{"i":1849,"d":0.34},
{"i":1851,"d":0.18},{"i":1853,"d":0.39},{"i":1855,"d":0.74},{"i":1857,"d":0.09},{"i":1859,"d":0.53},{"i":1861,"d":0.97},{"i":1863,"d":0.31},{"i":1865,"d":0.78},{"i":1867,"d":0.45},{"i":1869,"d":0.12},{"i":1871,"d":0.67},{"i":1873,"d":0.21},{"i":1875,"d":0.88},{"i":1877,"d":0.49},{"i":1879,"d":0.02},{"i":1881,"d":0.36},{"i":1883,"d":0.71},{"i":1885,"d":0.28},{"i":1887,"d":0.93},{"i":1889,"d":0.56},{"i":1891,"d":0.07},{"i":1893,"d":0.41},{"i":1895,"d":0.83},{"i":1897,"d":0.15},{"i":1899,"d":0.62},
{"i":1901,"d":0.29},{"i":1903,"d":0.84},{"i":1905,"d":0.42},{"i":1907,"d":0.65},{"i":1909,"d":0.11},{"i":1911,"d":0.95},{"i":1913,"d":0.54},{"i":1915,"d":0.19},{"i":1917,"d":0.72},{"i":1919,"d":0.38},{"i":1921,"d":0.03},{"i":1923,"d":0.61},{"i":1925,"d":0.86},{"i":1927,"d":0.23},{"i":1929,"d":0.47},{"i":1931,"d":0.76},{"i":1933,"d":0.14},{"i":1935,"d":0.58},{"i":1937,"d":0.91},{"i":1939,"d":0.33},{"i":1941,"d":0.69},{"i":1943,"d":0.05},{"i":1945,"d":0.44},{"i":1947,"d":0.81},{"i":1949,"d":0.27}
 ],
 "lines":[{"kind":"percentile","y":0.935,"x0":0,"x1":1930},{"kind":"mean","y":0.495,"x0":0,"x1":1930},{"kind":"percentile","y":0.035,"x0":0,"x1":1930}],
 "notes":[{"label":"Percentile 95%=0.93","x":844,"y":0.86,"bx0":170,"bx1":1500,"by0":0.811,"by1":0.91},{"label":"Mean=0.49","x":643,"y":0.493,"bx0":259,"bx1":1009,"by0":0.45,"by1":0.535},{"label":"Percentile 5%=0.03","x":790,"y":0.106,"bx0":170,"bx1":1464,"by0":0.072,"by1":0.149}],
 "hist":[{"delta":0,"pct":4.19},{"delta":0.05,"pct":4.41},{"delta":0.1,"pct":4.27},{"delta":0.15,"pct":4.41},{"delta":0.2,"pct":4.72},{"delta":0.25,"pct":4.49},{"delta":0.3,"pct":5.62},{"delta":0.35,"pct":5.69},{"delta":0.4,"pct":4.95},{"delta":0.45,"pct":5.91},{"delta":0.5,"pct":4.86},{"delta":0.55,"pct":5.09},{"delta":0.6,"pct":6.45},{"delta":0.65,"pct":5.54},{"delta":0.7,"pct":3.37},{"delta":0.75,"pct":6.06},{"delta":0.8,"pct":4.78},{"delta":0.85,"pct":4.55},{"delta":0.9,"pct":5.17},{"delta":0.95,"pct":4.55},{"delta":1.0,"pct":0.98}],
 "stats":[{"t":"Mean= 0.49","x":0.111,"y":6.66},{"t":"Std= 0.28","x":0.111,"y":6.38}]
},
"hconcat":[
 {"vconcat":[
  {"width":224,"height":147,
   "title":{"text":"R-statistic of Gelman & Rubin","fontSize":15,"anchor":"middle","offset":4},
   "data":{"name":"rstat"},
   "layer":[
    {"mark":{"type":"line","color":"black","strokeWidth":1},
     "encoding":{
      "x":{"field":"n","type":"quantitative","scale":{"domain":[0,800],"nice":false},"axis":{"orient":"bottom","values":[0,200,400,600,800],"labelFontSize":14,"labelPadding":16,"title":"# of Z actualization","titleFontSize":15,"titlePadding":4}},
      "y":{"field":"R","type":"quantitative","scale":{"domain":[0.8,1.6],"nice":false,"zero":false},"axis":{"orient":"left","values":[0.8,1,1.2,1.4,1.6],"format":"~g","labelFontSize":14,"labelPadding":11,"title":"R","titleFontSize":15,"titlePadding":16}}}},
    {"mark":{"type":"point","opacity":0},
     "encoding":{
      "x":{"field":"n","type":"quantitative","scale":{"domain":[0,800],"nice":false},"axis":{"orient":"top","values":[0,200,400,600,800],"labels":false,"title":null}},
      "y":{"field":"R","type":"quantitative","scale":{"domain":[0.8,1.6],"nice":false,"zero":false},"axis":{"orient":"right","values":[0.8,1,1.2,1.4,1.6],"labels":false,"title":null}}}}
   ],
   "resolve":{"axis":{"x":"independent","y":"independent"}}
  },
  {"width":224,"height":233,
   "layer":[
    {"data":{"name":"chain"},
     "mark":{"type":"point","shape":"M-1,-1L1,1M-1,1L1,-1","filled":false,"color":"#999999","strokeWidth":1.4,"size":46,"opacity":1},
     "encoding":{
      "x":{"field":"i","type":"quantitative","scale":{"domain":[0,2000],"nice":false},"axis":{"orient":"bottom","values":[0,1000,2000],"format":"d","labelFontSize":16,"labelPadding":11,"title":"Markov chain","titleFontSize":15,"titlePadding":8}},
      "y":{"field":"d","type":"quantitative","scale":{"domain":[0,1],"nice":false},"axis":{"orient":"left","values":[0,0.2,0.4,0.6,0.8,1],"format":"~g","labelFontSize":16,"labelPadding":10,"title":"delta","titleFontSize":15,"titlePadding":21}}}},
    {"data":{"name":"lines"},
     "mark":{"type":"rule","color":"black","strokeWidth":2},
     "encoding":{
      "x":{"field":"x0","type":"quantitative","axis":null},
      "x2":{"field":"x1"},
      "y":{"field":"y","type":"quantitative","axis":null},
      "strokeDash":{"field":"kind","type":"nominal","scale":{"domain":["percentile","mean"],"range":[[8,4],[1,0]]},"legend":null}}},
    {"data":{"name":"notes"},
     "mark":{"type":"rect","fill":"white"},
     "encoding":{
      "x":{"field":"bx0","type":"quantitative","axis":null},
      "x2":{"field":"bx1"},
      "y":{"field":"by0","type":"quantitative","axis":null},
      "y2":{"field":"by1"}}},
    {"data":{"name":"notes"},
     "mark":{"type":"text","fontSize":15,"color":"black","align":"center","baseline":"middle"},
     "encoding":{
      "x":{"field":"x","type":"quantitative","axis":null},
      "y":{"field":"y","type":"quantitative","axis":null},
      "text":{"field":"label"}}},
    {"data":{"name":"chain"},
     "mark":{"type":"point","opacity":0},
     "encoding":{
      "x":{"field":"i","type":"quantitative","axis":{"orient":"top","values":[0,1000,2000],"labels":false,"title":null}},
      "y":{"field":"d","type":"quantitative","axis":{"orient":"right","values":[0,0.2,0.4,0.6,0.8,1],"labels":false,"title":null}}}}
   ],
   "resolve":{"axis":{"x":"independent","y":"independent"}}
  }
 ],"spacing":112,"bounds":"flush"},
 {"width":297,"height":492,
  "layer":[
   {"data":{"name":"hist"},
    "mark":{"type":"bar","width":12,"fill":"#999999","stroke":"black","strokeWidth":1,"clip":true},
    "encoding":{
     "x":{"field":"delta","type":"quantitative","scale":{"domain":[0,1.0206],"nice":false,"padding":0},"axis":{"orient":"bottom","values":[0,0.2,0.4,0.6,0.8,1],"format":"~g","labelFontSize":15,"labelPadding":11,"title":"delta","titleFontSize":15,"titlePadding":6}},
     "y":{"field":"pct","type":"quantitative","scale":{"domain":[0,7],"nice":false},"axis":{"orient":"left","values":[0,1,2,3,4,5,6,7],"labelFontSize":15,"labelPadding":12,"title":"%","titleFontSize":15,"titlePadding":8}}}},
   {"data":{"name":"stats"},
    "mark":{"type":"text","fontSize":15,"color":"black","align":"left","baseline":"alphabetic"},
    "encoding":{
     "x":{"field":"x","type":"quantitative","scale":{"domain":[0,1.0206],"nice":false,"padding":0},"axis":null},
     "y":{"field":"y","type":"quantitative","scale":{"domain":[0,7],"nice":false},"axis":null},
     "text":{"field":"t"}}},
   {"data":{"name":"hist"},
    "mark":{"type":"rule","opacity":0},
    "encoding":{
     "x":{"field":"delta","type":"quantitative","scale":{"domain":[0,1.0206],"nice":false,"padding":0},"axis":{"orient":"top","values":[0,0.2,0.4,0.6,0.8,1],"labels":false,"title":null}}}}
  ],
  "resolve":{"axis":{"x":"independent","y":"independent"}}
 }
],
"spacing":323,
"bounds":"flush"
}
